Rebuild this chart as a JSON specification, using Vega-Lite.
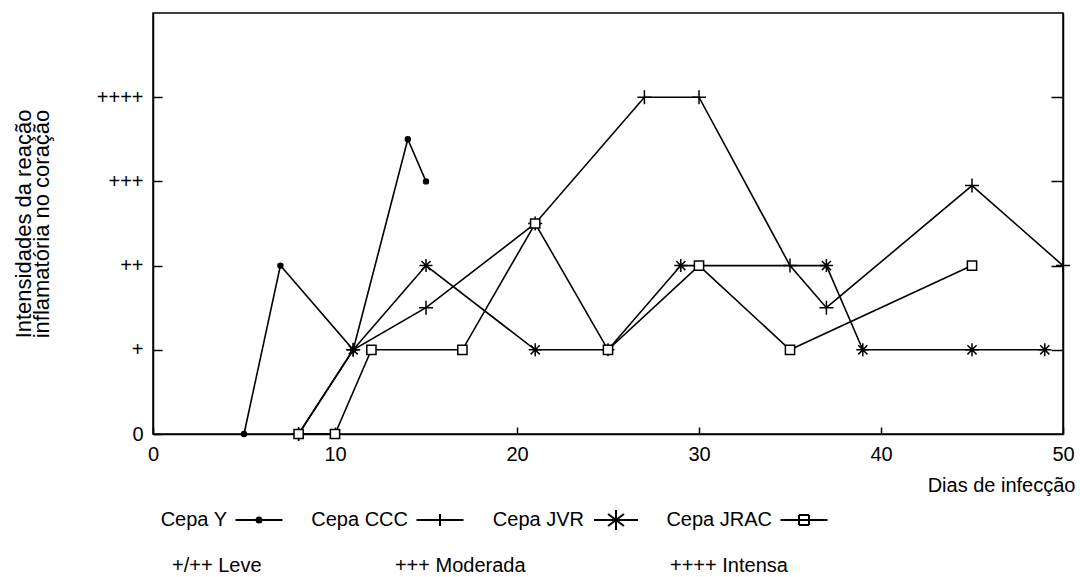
{
  "$schema": "https://vega.github.io/schema/vega-lite/v6.json",
  "autosize": "none",
  "width": 910,
  "height": 421,
  "padding": {"left": 153, "top": 13, "right": 17, "bottom": 143},
  "background": "white",
  "title": {
    "text": "+/++ Leve\u00a0\u00a0\u00a0\u00a0\u00a0\u00a0\u00a0\u00a0\u00a0\u00a0\u00a0\u00a0\u00a0\u00a0\u00a0\u00a0\u00a0\u00a0\u00a0\u00a0\u00a0\u00a0\u00a0\u00a0+++ Moderada\u00a0\u00a0\u00a0\u00a0\u00a0\u00a0\u00a0\u00a0\u00a0\u00a0\u00a0\u00a0\u00a0\u00a0\u00a0\u00a0\u00a0\u00a0\u00a0\u00a0\u00a0\u00a0\u00a0\u00a0\u00a0\u00a0++++ Intensa",
    "orient": "bottom",
    "anchor": "start",
    "frame": "group",
    "dx": 19,
    "offset": 22,
    "font": "Liberation Sans",
    "fontSize": 20,
    "fontWeight": "normal",
    "color": "black"
  },
  "data": {
    "values": [
      {"serie": "Cepa Y", "dia": 5, "nivel": 0},
      {"serie": "Cepa Y", "dia": 7, "nivel": 2},
      {"serie": "Cepa Y", "dia": 11, "nivel": 1},
      {"serie": "Cepa Y", "dia": 14, "nivel": 3.5},
      {"serie": "Cepa Y", "dia": 15, "nivel": 3},
      {"serie": "Cepa CCC", "dia": 8, "nivel": 0},
      {"serie": "Cepa CCC", "dia": 11, "nivel": 1},
      {"serie": "Cepa CCC", "dia": 15, "nivel": 1.5},
      {"serie": "Cepa CCC", "dia": 21, "nivel": 2.5},
      {"serie": "Cepa CCC", "dia": 27, "nivel": 4},
      {"serie": "Cepa CCC", "dia": 30, "nivel": 4},
      {"serie": "Cepa CCC", "dia": 35, "nivel": 2},
      {"serie": "Cepa CCC", "dia": 37, "nivel": 1.5},
      {"serie": "Cepa CCC", "dia": 45, "nivel": 2.95},
      {"serie": "Cepa CCC", "dia": 50, "nivel": 2},
      {"serie": "Cepa JVR", "dia": 8, "nivel": 0},
      {"serie": "Cepa JVR", "dia": 11, "nivel": 1},
      {"serie": "Cepa JVR", "dia": 15, "nivel": 2},
      {"serie": "Cepa JVR", "dia": 21, "nivel": 1},
      {"serie": "Cepa JVR", "dia": 25, "nivel": 1},
      {"serie": "Cepa JVR", "dia": 29, "nivel": 2},
      {"serie": "Cepa JVR", "dia": 37, "nivel": 2},
      {"serie": "Cepa JVR", "dia": 39, "nivel": 1},
      {"serie": "Cepa JVR", "dia": 45, "nivel": 1},
      {"serie": "Cepa JVR", "dia": 49, "nivel": 1},
      {"serie": "Cepa JRAC", "dia": 8, "nivel": 0},
      {"serie": "Cepa JRAC", "dia": 10, "nivel": 0},
      {"serie": "Cepa JRAC", "dia": 12, "nivel": 1},
      {"serie": "Cepa JRAC", "dia": 17, "nivel": 1},
      {"serie": "Cepa JRAC", "dia": 21, "nivel": 2.5},
      {"serie": "Cepa JRAC", "dia": 25, "nivel": 1},
      {"serie": "Cepa JRAC", "dia": 30, "nivel": 2},
      {"serie": "Cepa JRAC", "dia": 35, "nivel": 1},
      {"serie": "Cepa JRAC", "dia": 45, "nivel": 2}
    ]
  },
  "encoding": {
    "x": {
      "field": "dia",
      "type": "quantitative",
      "scale": {"domain": [0, 50], "nice": false, "zero": false},
      "axis": {
        "values": [0, 10, 20, 30, 40, 50],
        "tickSize": -7,
        "tickWidth": 1.5,
        "tickColor": "black",
        "labelPadding": 17,
        "labelFontSize": 20,
        "labelFont": "Liberation Sans",
        "labelColor": "black",
        "labelFlush": false,
        "domainColor": "black",
        "domainWidth": 1.5,
        "grid": false,
        "title": "Dias de infecção",
        "titleX": 922,
        "titleAlign": "right",
        "titleFont": "Liberation Sans",
        "titleFontSize": 20,
        "titleFontWeight": "normal",
        "titleColor": "black",
        "titlePadding": 11
      }
    }
  },
  "layer": [
    {
      "mark": {"type": "line", "color": "black", "strokeWidth": 1.6},
      "encoding": {
        "y": {
          "field": "nivel",
          "type": "quantitative",
          "scale": {"domain": [0, 5], "nice": false},
          "axis": {
            "orient": "left",
            "values": [0, 1, 2, 3, 4],
            "labelExpr": "['0','+','++','+++','++++'][datum.value]",
            "tickSize": -9,
            "tickWidth": 1.5,
            "tickColor": "black",
            "labelPadding": 19,
            "labelFontSize": 20,
            "labelFont": "Liberation Sans",
            "labelColor": "black",
            "domainColor": "black",
            "domainWidth": 1.5,
            "grid": false,
            "title": ["Intensidades da reação", "inflamatória no coração"],
            "titleFont": "Liberation Sans",
            "titleFontSize": 22,
            "titleFontWeight": "normal",
            "titleColor": "black",
            "titleLineHeight": 18,
            "titlePadding": 43
          }
        },
        "detail": {"field": "serie", "type": "nominal"}
      }
    },
    {
      "mark": {"type": "point", "stroke": "black", "strokeWidth": 1.5, "opacity": 1},
      "encoding": {
        "y": {
          "field": "nivel",
          "type": "quantitative",
          "scale": {"domain": [0, 5], "nice": false},
          "axis": {
            "orient": "right",
            "values": [1, 2, 3, 4],
            "labels": false,
            "tickSize": -12,
            "tickWidth": 1.5,
            "tickColor": "black",
            "domainColor": "black",
            "domainWidth": 1.5,
            "grid": false,
            "title": null
          }
        },
        "shape": {
          "field": "serie",
          "type": "nominal",
          "scale": {
            "domain": ["Cepa Y", "Cepa CCC", "Cepa JVR", "Cepa JRAC"],
            "range": ["circle", "M-1,0H1M0,-1V1", "M-1,0H1M0,-1V1M-0.7,-0.7L0.7,0.7M-0.7,0.7L0.7,-0.7", "square"]
          },
          "legend": null
        },
        "fill": {
          "condition": [
            {"test": "datum.serie === 'Cepa Y'", "value": "black"},
            {"test": "datum.serie === 'Cepa JRAC'", "value": "white"}
          ],
          "value": "transparent"
        },
        "size": {
          "condition": [
            {"test": "datum.serie === 'Cepa Y'", "value": 24},
            {"test": "datum.serie === 'Cepa JRAC'", "value": 85},
            {"test": "datum.serie === 'Cepa JVR'", "value": 169}
          ],
          "value": 196
        }
      }
    },
    {
      "transform": [{"filter": "datum.dia < 0"}],
      "mark": {"type": "point", "filled": true, "fill": "black", "stroke": "black", "strokeWidth": 2, "opacity": 1},
      "encoding": {
        "y": {"field": "nivel", "type": "quantitative", "scale": {"domain": [0, 5], "nice": false}, "axis": null},
        "shape": {
          "field": "serie",
          "type": "nominal",
          "scale": {
            "domain": ["Cepa Y", "Cepa CCC", "Cepa JVR", "Cepa JRAC"],
            "range": [
              "M7.15,0H11.85M9.25,0A0.25,0.25,0,1,1,9.75,0A0.25,0.25,0,1,1,9.25,0ZM9.5,-1M9.5,1",
              "M7.15,0H11.85M9.5,-0.6V0.6M9.5,-1M9.5,1",
              "M7.3,0H11.7M9.5,-1V1M8.7,-0.6L10.3,0.6M8.7,0.6L10.3,-0.6",
              "M7.15,0H11.85M9,-0.5H10M10,-0.5V0.5M10,0.5H9M9,0.5V-0.5M9.5,-1M9.5,1"
            ]
          },
          "legend": {
            "title": null,
            "orient": "bottom",
            "direction": "horizontal",
            "columns": 4,
            "offset": 14,
            "symbolSize": 400,
            "symbolStrokeWidth": 2,
            "labelAlign": "right",
            "labelOffset": 52,
            "labelFont": "Liberation Sans",
            "labelFontSize": 20,
            "labelColor": "black",
            "columnPadding": 24
          }
        }
      }
    }
  ],
  "resolve": {"axis": {"y": "independent"}, "scale": {"shape": "independent"}},
  "config": {
    "font": "Liberation Sans",
    "view": {"stroke": "black", "strokeWidth": 1.5}
  }
}
